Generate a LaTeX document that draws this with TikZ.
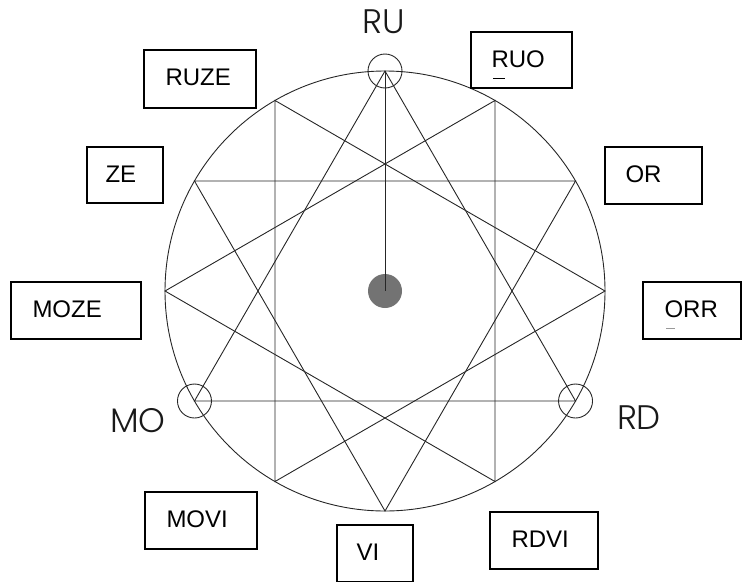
\documentclass[tikz,border=0pt]{standalone}
\usepackage{fontspec}
\setmainfont{Liberation Sans}
\newfontfamily\geofont{Poppins Light}
\usetikzlibrary{calc}
\tikzset{
  thinline/.style={draw=black!85, line width=0.9pt},
  boxshape/.style={draw=black, line width=1.4pt, inner sep=0pt},
  boxtext/.style={inner sep=0pt, anchor=west, font=\fontsize{24}{28}\selectfont},
  bigtext/.style={inner sep=0pt, font=\geofont\fontsize{34}{40}\selectfont, text=black!90},
  ring/.style={circle, draw=black!85, line width=0.9pt, minimum size=34pt, inner sep=0pt},
  dot/.style={circle, fill=black!55, minimum size=34pt, inner sep=0pt}
}
\begin{document}
\begin{tikzpicture}[x=1pt,y=1pt]
\useasboundingbox (0,0) rectangle (749,-581);
% main circle and points
\coordinate (c) at (385,-291);
\draw[thinline] (c) circle (220);
\foreach \k in {0,...,11}{
  \path (c) ++({90-30*\k}:220) coordinate (p\k);
}
% four triangles
\draw[thinline] (p0) -- (p4) -- (p8) -- cycle;
\draw[thinline] (p1) -- (p5) -- (p9) -- cycle;
\draw[thinline] (p2) -- (p6) -- (p10) -- cycle;
\draw[thinline] (p3) -- (p7) -- (p11) -- cycle;
% small rings
\node[ring] (ru) at (p0) {};
\node[ring] (rd) at (p4) {};
\node[ring] (mo) at (p8) {};
% center dot and line
\node[dot] (hub) at (c) {};
\draw[thinline] (p0) -- (hub.center);
% big labels
\node[bigtext] (rulbl) at (384,-22) {RU};
\node[bigtext] (molbl) at (138,-421) {MO};
\node[bigtext] (rdlbl) at (639,-418) {RD};
% boxes
\node[boxshape, minimum width=112pt, minimum height=58pt] (ruze) at (200,-79) {};
\node[boxtext] (ruzet) at ([xshift=22pt,yshift=2pt]ruze.west) {RUZE};
\node[boxshape, minimum width=101pt, minimum height=56pt] (ruo) at (521.5,-60) {};
\node[boxtext] (ruot) at ([xshift=21pt,yshift=1pt]ruo.west) {RUO};
\node[boxshape, minimum width=97pt, minimum height=57pt] (or) at (653.5,-175.5) {};
\node[boxtext] (ort) at ([xshift=21pt,yshift=1pt]or.west) {OR};
\node[boxshape, minimum width=98pt, minimum height=57pt] (orr) at (692,-310.5) {};
\node[boxtext] (orrt) at ([xshift=22pt,yshift=1pt]orr.west) {ORR};
\node[boxshape, minimum width=76pt, minimum height=56pt] (ze) at (125,-175) {};
\node[boxtext] (zet) at ([xshift=19pt,yshift=1pt]ze.west) {ZE};
\node[boxshape, minimum width=130pt, minimum height=57pt] (moze) at (76,-310.5) {};
\node[boxtext] (mozet) at ([xshift=22pt,yshift=1pt]moze.west) {MOZE};
\node[boxshape, minimum width=112pt, minimum height=57pt] (movi) at (201,-520.5) {};
\node[boxtext] (movit) at ([xshift=22pt,yshift=1pt]movi.west) {MOVI};
\node[boxshape, minimum width=108pt, minimum height=57pt] (rdvi) at (544,-540.5) {};
\node[boxtext] (rdvit) at ([xshift=22pt,yshift=1pt]rdvi.west) {RDVI};
\node[boxshape, minimum width=76pt, minimum height=57pt] (vi) at (375,-553.5) {};
\node[boxtext] (vit) at ([xshift=20pt,yshift=1pt]vi.west) {VI};
% small dashes
\coordinate (da) at (493,-78); \coordinate (db) at (505,-78);
\draw[black, line width=1pt] (da) -- (db);
\coordinate (dc) at (666,-328); \coordinate (dd) at (675,-328);
\draw[black!40, line width=1pt] (dc) -- (dd);
\end{tikzpicture}
\end{document}
